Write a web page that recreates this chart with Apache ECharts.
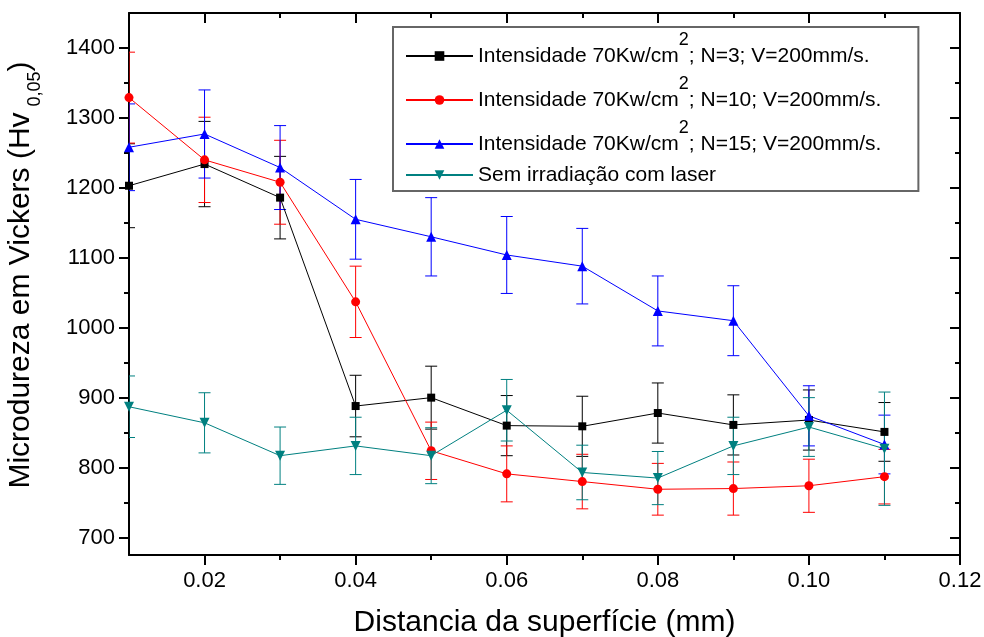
<!DOCTYPE html>
<html>
<head>
<meta charset="utf-8">
<script src="https://cdn.jsdelivr.net/npm/echarts@6/dist/echarts.min.js"></script>
<style>
html,body{margin:0;padding:0;background:#fff;}
#chart{width:984px;height:637px;}
</style>
</head>
<body>
<div id="chart"></div>
<script>
// ---- data ----
const distances = [0.01, 0.02, 0.03, 0.04, 0.05, 0.06, 0.07, 0.08, 0.09, 0.10, 0.11];

const seriesNames = [
  'Intensidade 70Kw/cm{sup|2}; N=3; V=200mm/s.',
  'Intensidade 70Kw/cm{sup|2}; N=10; V=200mm/s.',
  'Intensidade 70Kw/cm{sup|2}; N=15; V=200mm/s.',
  'Sem irradiação com laser'
];

const hvN3   = [1203, 1234, 1186, 888, 900, 860, 859, 878, 861, 868, 851];
const errN3  = [60, 61, 59, 44, 45, 43, 43, 43, 43, 43, 42];

const hvN10  = [1329, 1240, 1208, 1037, 824, 791, 780, 769, 770, 774, 787];
const errN10 = [65, 61, 60, 51, 41, 40, 39, 37, 38, 38, 39];

const hvN15  = [1258, 1277, 1229, 1155, 1130, 1104, 1088, 1024, 1010, 874, 833];
const errN15 = [62, 63, 60, 57, 56, 55, 54, 50, 50, 43, 42];

const hvRef  = [887, 864, 817, 831, 817, 882, 793, 785, 831, 858, 827];
const errRef = [44, 43, 41, 41, 40, 44, 39, 38, 41, 42, 81];

const xTicks = [0.02, 0.04, 0.06, 0.08, 0.10, 0.12];
const yTicks = [700, 800, 900, 1000, 1100, 1200, 1300, 1400];

// ---- styles ----
const FONT = '"Liberation Sans", Arial, sans-serif';
const colors = ['#000000', '#ff0000', '#0000ff', '#008080'];
const symbols = ['rect', 'circle', 'triangle', 'triangle'];
const symbolSizes = [8, 9, 10, 10];
const symbolRotates = [0, 0, 0, 180];

const values = [hvN3, hvN10, hvN15, hvRef];
const errors = [errN3, errN10, errN15, errRef];

function pairs(v) { return distances.map((d, i) => [d, v[i]]); }
function errData(v, e) { return distances.map((d, i) => [d, v[i] - e[i], v[i] + e[i]]); }

function errRenderer(color) {
  return function (params, api) {
    const x = api.value(0);
    const lo = api.coord([x, api.value(1)]);
    const hi = api.coord([x, api.value(2)]);
    const w = 6;
    const st = { stroke: color, lineWidth: 1 };
    return {
      type: 'group',
      children: [
        { type: 'line', shape: { x1: lo[0], y1: lo[1], x2: hi[0], y2: hi[1] }, style: st },
        { type: 'line', shape: { x1: lo[0] - w, y1: lo[1], x2: lo[0] + w, y2: lo[1] }, style: st },
        { type: 'line', shape: { x1: hi[0] - w, y1: hi[1], x2: hi[0] + w, y2: hi[1] }, style: st }
      ]
    };
  };
}

const series = [];
values.forEach((v, k) => {
  series.push({
    type: 'custom',
    name: 'err' + k,
    renderItem: errRenderer(colors[k]),
    data: errData(v, errors[k]),
    encode: { x: 0, y: [1, 2] },
    clip: true,
    z: 2,
    silent: true
  });
});
values.forEach((v, k) => {
  series.push({
    type: 'line',
    name: seriesNames[k],
    data: pairs(v),
    symbol: symbols[k],
    symbolSize: symbolSizes[k],
    symbolRotate: symbolRotates[k],
    showAllSymbol: true,
    color: colors[k],
    itemStyle: { color: colors[k] },
    lineStyle: { color: colors[k], width: 1 },
    clip: true,
    z: 3,
    animation: false
  });
});

const axisLineStyle = { show: true, onZero: false, lineStyle: { color: '#000', width: 2 } };

const option = {
  animation: false,
  backgroundColor: '#fff',
  grid: { left: 129, right: 24, top: 13, bottom: 82, containLabel: false, outerBoundsMode: 'none' },
  legend: {
    orient: 'vertical',
    left: 393,
    top: 27,
    data: seriesNames,
    itemWidth: 67,
    itemHeight: 12,
    itemGap: -6,
    padding: [4, 37, 4, 12],
    borderColor: '#666',
    borderWidth: 2,
    borderRadius: 0,
    selectedMode: false,
    textStyle: {
      fontFamily: FONT,
      fontSize: 21,
      color: '#000',
      lineHeight: 24,
      rich: {
        sup: { fontFamily: FONT, fontSize: 18, color: '#000', padding: [0, 0, 32, 0], lineHeight: 24 }
      }
    }
  },
  xAxis: [
    {
      type: 'value',
      position: 'bottom',
      min: 0.01,
      max: 0.12,
      splitNumber: 5,
      minInterval: 0.02,
      maxInterval: 0.02,
      axisLine: axisLineStyle,
      axisTick: { show: true, inside: false, length: 10, customValues: xTicks, lineStyle: { color: '#000', width: 2 } },
      minorTick: { show: true, splitNumber: 2, length: 5, lineStyle: { color: '#000', width: 2 } },
      splitLine: { show: false },
      axisLabel: {
        customValues: xTicks,
        formatter: v => v.toFixed(2),
        fontFamily: FONT, fontSize: 22, color: '#000', margin: 15
      },
      name: 'Distancia da superfície (mm)',
      nameLocation: 'middle',
      nameGap: 53,
      nameTextStyle: { fontFamily: FONT, fontSize: 30, color: '#000' }
    },
    {
      type: 'value',
      position: 'top',
      min: 0.01,
      max: 0.12,
      splitNumber: 5,
      minInterval: 0.02,
      maxInterval: 0.02,
      axisLine: axisLineStyle,
      axisTick: { show: true, inside: true, length: 10, customValues: xTicks, lineStyle: { color: '#000', width: 2 } },
      minorTick: { show: true, splitNumber: 2, length: 5, lineStyle: { color: '#000', width: 2 } },
      splitLine: { show: false },
      axisLabel: { show: false }
    }
  ],
  yAxis: [
    {
      type: 'value',
      position: 'left',
      min: 675,
      max: 1450,
      splitNumber: 8,
      minInterval: 100,
      maxInterval: 100,
      axisLine: axisLineStyle,
      axisTick: { show: true, inside: false, length: 10, customValues: yTicks, lineStyle: { color: '#000', width: 2 } },
      minorTick: { show: true, splitNumber: 2, length: 5, lineStyle: { color: '#000', width: 2 } },
      splitLine: { show: false },
      axisLabel: {
        customValues: yTicks,
        formatter: v => String(v),
        fontFamily: FONT, fontSize: 22, color: '#000', margin: 14
      },
      name: 'Microdureza em Vickers (Hv{sub|0,05})',
      nameLocation: 'middle',
      nameGap: 92,
      nameRotate: 90,
      nameTextStyle: {
        fontFamily: FONT, fontSize: 30, color: '#000', lineHeight: 32,
        padding: [0, 0, 0, 18],
        rich: {
          sub: { fontFamily: FONT, fontSize: 18, color: '#000', padding: [28, 0, 0, 6], lineHeight: 32 }
        }
      }
    },
    {
      type: 'value',
      position: 'right',
      min: 675,
      max: 1450,
      splitNumber: 8,
      minInterval: 100,
      maxInterval: 100,
      axisLine: axisLineStyle,
      axisTick: { show: true, inside: true, length: 10, customValues: yTicks, lineStyle: { color: '#000', width: 2 } },
      minorTick: { show: true, splitNumber: 2, length: 5, lineStyle: { color: '#000', width: 2 } },
      splitLine: { show: false },
      axisLabel: { show: false }
    }
  ],
  series: series
};

const chart = echarts.init(document.getElementById('chart'), null, { renderer: 'canvas' });
chart.setOption(option);
</script>
</body>
</html>
